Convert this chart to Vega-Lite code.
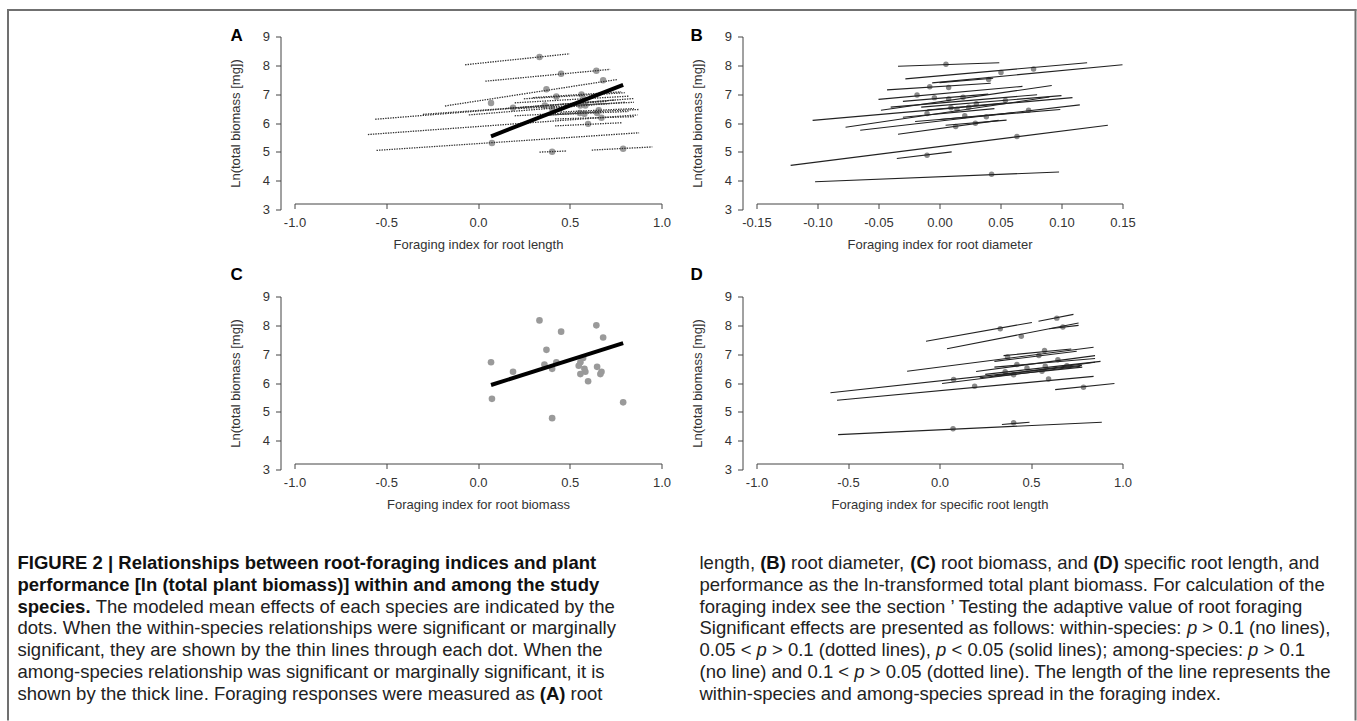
{
  "$schema": "https://vega.github.io/schema/vega-lite/v6.json",
  "background": "white",
  "padding": {"left": 6.5, "top": 8.5, "right": 1, "bottom": 0},
  "autosize": {"type": "pad"},
  "bounds": "flush",
  "columns": 2,
  "spacing": {"row": 87, "column": 95},
  "config": {
    "font": "Liberation Sans",
    "view": {"stroke": null},
    "text": {"fontSize": 18.5, "align": "left", "baseline": "alphabetic", "color": "#222"},
    "axis": {"grid": false, "domainColor": "#444", "tickColor": "#444", "tickSize": 5, "labelFontSize": 13, "labelColor": "#333", "titleFontSize": 13, "titleFontWeight": "normal", "titleColor": "#333", "labelFlush": false, "labelOverlap": false},
    "axisX": {"offset": -6, "labelPadding": 8, "titlePadding": 9},
    "axisY": {"offset": 14, "labelPadding": 6, "titlePadding": 20}
  },
  "concat": [
    {
      "width": 367, "height": 173,
      "layer": [
        {
          "data": {"values": [
            {"x": 0.335, "y": 8.29}, {"x": 0.453, "y": 7.71}, {"x": 0.645, "y": 7.81}, {"x": 0.373, "y": 7.17}, {"x": 0.682, "y": 7.48}, {"x": 0.071, "y": 6.69}, {"x": 0.191, "y": 6.53}, {"x": 0.427, "y": 6.92}, {"x": 0.364, "y": 6.61}, {"x": 0.404, "y": 6.50}, {"x": 0.564, "y": 6.99}, {"x": 0.576, "y": 6.83}, {"x": 0.558, "y": 6.61}, {"x": 0.585, "y": 6.61}, {"x": 0.555, "y": 6.35}, {"x": 0.580, "y": 6.32}, {"x": 0.658, "y": 6.44}, {"x": 0.649, "y": 6.35}, {"x": 0.673, "y": 6.18}, {"x": 0.600, "y": 5.97}, {"x": 0.076, "y": 5.31}, {"x": 0.404, "y": 5.00}, {"x": 0.791, "y": 5.11}
          ]},
          "mark": {"type": "circle", "size": 42, "color": "#9a9a9a", "opacity": 1},
          "encoding": {
            "x": {"field": "x", "type": "quantitative", "scale": {"domain": [-1, 1], "nice": false, "zero": false}, "axis": {"title": "Foraging index for root length", "values": [-1, -0.5, 0, 0.5, 1], "labelExpr": "datum.value < 0 ? '-' + format(-datum.value, '.1f') : format(datum.value, '.1f')"}},
            "y": {"field": "y", "type": "quantitative", "scale": {"domain": [3, 9], "nice": false, "zero": false}, "axis": {"title": "Ln(total biomass [mg])", "values": [3, 4, 5, 6, 7, 8, 9]}}
          }
        },
        {
          "data": {"values": [
            {"x": -0.07, "y": 8.02, "x2": 0.50, "y2": 8.40},
            {"x": 0.04, "y": 7.45, "x2": 0.72, "y2": 7.86},
            {"x": -0.18, "y": 6.59, "x2": 0.76, "y2": 7.51},
            {"x": -0.56, "y": 6.13, "x2": 0.85, "y2": 6.85},
            {"x": -0.60, "y": 5.60, "x2": 0.87, "y2": 6.28},
            {"x": -0.30, "y": 6.30, "x2": 0.70, "y2": 6.75},
            {"x": 0.25, "y": 6.84, "x2": 0.80, "y2": 7.05},
            {"x": 0.15, "y": 6.50, "x2": 0.75, "y2": 6.80},
            {"x": -0.05, "y": 6.28, "x2": 0.80, "y2": 6.72},
            {"x": 0.30, "y": 6.88, "x2": 0.78, "y2": 7.08},
            {"x": 0.20, "y": 6.70, "x2": 0.82, "y2": 6.93},
            {"x": 0.22, "y": 6.50, "x2": 0.85, "y2": 6.72},
            {"x": 0.20, "y": 6.25, "x2": 0.88, "y2": 6.47},
            {"x": 0.38, "y": 6.28, "x2": 0.82, "y2": 6.40},
            {"x": 0.45, "y": 6.38, "x2": 0.85, "y2": 6.50},
            {"x": 0.42, "y": 6.14, "x2": 0.85, "y2": 6.22},
            {"x": 0.42, "y": 5.90, "x2": 0.785, "y2": 6.01},
            {"x": -0.553, "y": 5.05, "x2": 0.878, "y2": 5.66},
            {"x": 0.335, "y": 4.99, "x2": 0.485, "y2": 5.03},
            {"x": 0.62, "y": 5.06, "x2": 0.95, "y2": 5.17}
          ]},
          "mark": {"type": "rule", "strokeDash": [1.4, 1.1], "strokeWidth": 1.3, "color": "#333"},
          "encoding": {
            "x": {"field": "x", "type": "quantitative", "scale": {"domain": [-1, 1], "nice": false, "zero": false}, "axis": {"title": "Foraging index for root length", "values": [-1, -0.5, 0, 0.5, 1], "labelExpr": "datum.value < 0 ? '-' + format(-datum.value, '.1f') : format(datum.value, '.1f')"}},
            "y": {"field": "y", "type": "quantitative", "scale": {"domain": [3, 9], "nice": false, "zero": false}, "axis": {"title": "Ln(total biomass [mg])", "values": [3, 4, 5, 6, 7, 8, 9]}},
            "x2": {"field": "x2"}, "y2": {"field": "y2"}
          }
        },
        {
          "data": {"values": [
            {"x": 0.47, "y": 6.60, "x2": 0.72, "y2": 6.68},
            {"x": 0.38, "y": 6.27, "x2": 0.66, "y2": 6.38}
          ]},
          "mark": {"type": "rule", "strokeWidth": 1, "color": "#444"},
          "encoding": {
            "x": {"field": "x", "type": "quantitative", "scale": {"domain": [-1, 1], "nice": false, "zero": false}, "axis": {"title": "Foraging index for root length", "values": [-1, -0.5, 0, 0.5, 1], "labelExpr": "datum.value < 0 ? '-' + format(-datum.value, '.1f') : format(datum.value, '.1f')"}},
            "y": {"field": "y", "type": "quantitative", "scale": {"domain": [3, 9], "nice": false, "zero": false}, "axis": {"title": "Ln(total biomass [mg])", "values": [3, 4, 5, 6, 7, 8, 9]}},
            "x2": {"field": "x2"}, "y2": {"field": "y2"}
          }
        },
        {
          "data": {"values": [{"x": 0.071, "y": 5.54, "x2": 0.791, "y2": 7.32}]},
          "mark": {"type": "rule", "strokeWidth": 4, "color": "black"},
          "encoding": {
            "x": {"field": "x", "type": "quantitative", "scale": {"domain": [-1, 1], "nice": false, "zero": false}, "axis": {"title": "Foraging index for root length", "values": [-1, -0.5, 0, 0.5, 1], "labelExpr": "datum.value < 0 ? '-' + format(-datum.value, '.1f') : format(datum.value, '.1f')"}},
            "y": {"field": "y", "type": "quantitative", "scale": {"domain": [3, 9], "nice": false, "zero": false}, "axis": {"title": "Ln(total biomass [mg])", "values": [3, 4, 5, 6, 7, 8, 9]}},
            "x2": {"field": "x2"}, "y2": {"field": "y2"}
          }
        },
        {
          "data": {"values": [{"label": "A"}]},
          "mark": {"type": "text", "fontSize": 17, "fontWeight": "bold", "color": "black"},
          "encoding": {
            "x": {"datum": -1.349, "type": "quantitative", "scale": {"domain": [-1, 1], "nice": false, "zero": false}, "axis": {"title": "Foraging index for root length", "values": [-1, -0.5, 0, 0.5, 1], "labelExpr": "datum.value < 0 ? '-' + format(-datum.value, '.1f') : format(datum.value, '.1f')"}},
            "y": {"datum": 8.83, "type": "quantitative", "scale": {"domain": [3, 9], "nice": false, "zero": false}, "axis": {"title": "Ln(total biomass [mg])", "values": [3, 4, 5, 6, 7, 8, 9]}},
            "text": {"field": "label"}
          }
        }
      ]
    },
    {
      "width": 366, "height": 173,
      "layer": [
        {
          "data": {"values": [
            {"x": 0.0053, "y": 8.04}, {"x": 0.0504, "y": 7.75}, {"x": 0.0771, "y": 7.87}, {"x": 0.0403, "y": 7.51}, {"x": -0.008, "y": 7.26}, {"x": 0.0075, "y": 7.23}, {"x": -0.0184, "y": 6.97}, {"x": -0.0042, "y": 6.88}, {"x": 0.0075, "y": 6.83}, {"x": 0.0193, "y": 6.89}, {"x": 0.0302, "y": 6.67}, {"x": 0.054, "y": 6.78}, {"x": 0.0094, "y": 6.53}, {"x": 0.0143, "y": 6.48}, {"x": 0.0239, "y": 6.55}, {"x": -0.0102, "y": 6.33}, {"x": 0.0207, "y": 6.25}, {"x": 0.0384, "y": 6.22}, {"x": 0.073, "y": 6.44}, {"x": 0.0133, "y": 5.88}, {"x": 0.0294, "y": 5.99}, {"x": 0.0635, "y": 5.53}, {"x": -0.0102, "y": 4.88}, {"x": 0.0427, "y": 4.22}
          ]},
          "mark": {"type": "circle", "size": 30, "color": "#8a8a8a", "opacity": 1},
          "encoding": {
            "x": {"field": "x", "type": "quantitative", "scale": {"domain": [-0.15, 0.15], "nice": false, "zero": false}, "axis": {"title": "Foraging index for root diameter", "values": [-0.15, -0.1, -0.05, 0, 0.05, 0.1, 0.15], "labelExpr": "datum.value < -0.0001 ? '-' + format(-datum.value, '.2f') : format(abs(datum.value), '.2f')"}},
            "y": {"field": "y", "type": "quantitative", "scale": {"domain": [3, 9], "nice": false, "zero": false}, "axis": {"title": "Ln(total biomass [mg])", "values": [3, 4, 5, 6, 7, 8, 9]}}
          }
        },
        {
          "data": {"values": [
            {"x": -0.034, "y": 7.97, "x2": 0.049, "y2": 8.09},
            {"x": -0.028, "y": 7.53, "x2": 0.121, "y2": 8.09},
            {"x": -0.006, "y": 7.39, "x2": 0.150, "y2": 8.02},
            {"x": 0.000, "y": 7.40, "x2": 0.044, "y2": 7.55},
            {"x": -0.043, "y": 7.15, "x2": 0.042, "y2": 7.38},
            {"x": -0.050, "y": 6.82, "x2": 0.068, "y2": 7.27},
            {"x": -0.048, "y": 6.44, "x2": 0.092, "y2": 7.30},
            {"x": -0.104, "y": 6.09, "x2": 0.109, "y2": 6.88},
            {"x": -0.077, "y": 5.85, "x2": 0.090, "y2": 6.90},
            {"x": -0.065, "y": 5.75, "x2": 0.115, "y2": 6.63},
            {"x": -0.034, "y": 5.61, "x2": 0.0485, "y2": 6.09},
            {"x": -0.122, "y": 4.53, "x2": 0.138, "y2": 5.92},
            {"x": -0.035, "y": 4.77, "x2": 0.010, "y2": 5.00},
            {"x": -0.102, "y": 3.96, "x2": 0.098, "y2": 4.30},
            {"x": -0.040, "y": 6.55, "x2": 0.080, "y2": 6.98},
            {"x": -0.020, "y": 6.05, "x2": 0.099, "y2": 6.47},
            {"x": -0.030, "y": 6.20, "x2": 0.045, "y2": 6.50},
            {"x": -0.015, "y": 6.55, "x2": 0.100, "y2": 6.95},
            {"x": 0.000, "y": 6.12, "x2": 0.060, "y2": 6.35},
            {"x": -0.030, "y": 6.75, "x2": 0.040, "y2": 7.00},
            {"x": -0.010, "y": 6.45, "x2": 0.055, "y2": 6.70},
            {"x": 0.005, "y": 5.92, "x2": 0.055, "y2": 6.10}
          ]},
          "mark": {"type": "rule", "strokeWidth": 1.1, "color": "#222"},
          "encoding": {
            "x": {"field": "x", "type": "quantitative", "scale": {"domain": [-0.15, 0.15], "nice": false, "zero": false}, "axis": {"title": "Foraging index for root diameter", "values": [-0.15, -0.1, -0.05, 0, 0.05, 0.1, 0.15], "labelExpr": "datum.value < -0.0001 ? '-' + format(-datum.value, '.2f') : format(abs(datum.value), '.2f')"}},
            "y": {"field": "y", "type": "quantitative", "scale": {"domain": [3, 9], "nice": false, "zero": false}, "axis": {"title": "Ln(total biomass [mg])", "values": [3, 4, 5, 6, 7, 8, 9]}},
            "x2": {"field": "x2"}, "y2": {"field": "y2"}
          }
        },
        {
          "data": {"values": [{"label": "B"}]},
          "mark": {"type": "text", "fontSize": 17, "fontWeight": "bold", "color": "black"},
          "encoding": {
            "x": {"datum": -0.204, "type": "quantitative", "scale": {"domain": [-0.15, 0.15], "nice": false, "zero": false}, "axis": {"title": "Foraging index for root diameter", "values": [-0.15, -0.1, -0.05, 0, 0.05, 0.1, 0.15], "labelExpr": "datum.value < -0.0001 ? '-' + format(-datum.value, '.2f') : format(abs(datum.value), '.2f')"}},
            "y": {"datum": 8.83, "type": "quantitative", "scale": {"domain": [3, 9], "nice": false, "zero": false}, "axis": {"title": "Ln(total biomass [mg])", "values": [3, 4, 5, 6, 7, 8, 9]}},
            "text": {"field": "label"}
          }
        }
      ]
    },
    {
      "width": 367, "height": 173,
      "layer": [
        {
          "data": {"values": [
            {"x": 0.071, "y": 6.72}, {"x": 0.076, "y": 5.45}, {"x": 0.191, "y": 6.39}, {"x": 0.335, "y": 8.17}, {"x": 0.373, "y": 7.15}, {"x": 0.362, "y": 6.64}, {"x": 0.404, "y": 6.49}, {"x": 0.427, "y": 6.72}, {"x": 0.404, "y": 4.78}, {"x": 0.453, "y": 7.78}, {"x": 0.558, "y": 6.72}, {"x": 0.549, "y": 6.60}, {"x": 0.573, "y": 6.87}, {"x": 0.580, "y": 6.49}, {"x": 0.585, "y": 6.39}, {"x": 0.558, "y": 6.31}, {"x": 0.600, "y": 6.06}, {"x": 0.645, "y": 8.00}, {"x": 0.649, "y": 6.56}, {"x": 0.682, "y": 7.58}, {"x": 0.667, "y": 6.31}, {"x": 0.673, "y": 6.39}, {"x": 0.791, "y": 5.33}
          ]},
          "mark": {"type": "circle", "size": 44, "color": "#9a9a9a", "opacity": 1},
          "encoding": {
            "x": {"field": "x", "type": "quantitative", "scale": {"domain": [-1, 1], "nice": false, "zero": false}, "axis": {"title": "Foraging index for root biomass", "values": [-1, -0.5, 0, 0.5, 1], "labelExpr": "datum.value < 0 ? '-' + format(-datum.value, '.1f') : format(datum.value, '.1f')"}},
            "y": {"field": "y", "type": "quantitative", "scale": {"domain": [3, 9], "nice": false, "zero": false}, "axis": {"title": "Ln(total biomass [mg])", "values": [3, 4, 5, 6, 7, 8, 9]}}
          }
        },
        {
          "data": {"values": [{"x": 0.071, "y": 5.93, "x2": 0.791, "y2": 7.38}]},
          "mark": {"type": "rule", "strokeWidth": 4, "color": "black"},
          "encoding": {
            "x": {"field": "x", "type": "quantitative", "scale": {"domain": [-1, 1], "nice": false, "zero": false}, "axis": {"title": "Foraging index for root biomass", "values": [-1, -0.5, 0, 0.5, 1], "labelExpr": "datum.value < 0 ? '-' + format(-datum.value, '.1f') : format(datum.value, '.1f')"}},
            "y": {"field": "y", "type": "quantitative", "scale": {"domain": [3, 9], "nice": false, "zero": false}, "axis": {"title": "Ln(total biomass [mg])", "values": [3, 4, 5, 6, 7, 8, 9]}},
            "x2": {"field": "x2"}, "y2": {"field": "y2"}
          }
        },
        {
          "data": {"values": [{"label": "C"}]},
          "mark": {"type": "text", "fontSize": 17, "fontWeight": "bold", "color": "black"},
          "encoding": {
            "x": {"datum": -1.349, "type": "quantitative", "scale": {"domain": [-1, 1], "nice": false, "zero": false}, "axis": {"title": "Foraging index for root biomass", "values": [-1, -0.5, 0, 0.5, 1], "labelExpr": "datum.value < 0 ? '-' + format(-datum.value, '.1f') : format(datum.value, '.1f')"}},
            "y": {"datum": 9.555, "type": "quantitative", "scale": {"domain": [3, 9], "nice": false, "zero": false}, "axis": {"title": "Ln(total biomass [mg])", "values": [3, 4, 5, 6, 7, 8, 9]}},
            "text": {"field": "label"}
          }
        }
      ]
    },
    {
      "width": 366, "height": 173,
      "layer": [
        {
          "data": {"values": [
            {"x": 0.641, "y": 8.25}, {"x": 0.332, "y": 7.88}, {"x": 0.447, "y": 7.62}, {"x": 0.674, "y": 7.94}, {"x": 0.372, "y": 6.90}, {"x": 0.574, "y": 7.13}, {"x": 0.543, "y": 6.95}, {"x": 0.647, "y": 6.81}, {"x": 0.423, "y": 6.64}, {"x": 0.578, "y": 6.58}, {"x": 0.478, "y": 6.52}, {"x": 0.359, "y": 6.39}, {"x": 0.405, "y": 6.29}, {"x": 0.560, "y": 6.41}, {"x": 0.696, "y": 6.60}, {"x": 0.077, "y": 6.12}, {"x": 0.192, "y": 5.89}, {"x": 0.596, "y": 6.14}, {"x": 0.787, "y": 5.85}, {"x": 0.074, "y": 4.41}, {"x": 0.405, "y": 4.62}
          ]},
          "mark": {"type": "circle", "size": 30, "color": "#8a8a8a", "opacity": 1},
          "encoding": {
            "x": {"field": "x", "type": "quantitative", "scale": {"domain": [-1, 1], "nice": false, "zero": false}, "axis": {"title": "Foraging index for specific root length", "values": [-1, -0.5, 0, 0.5, 1], "labelExpr": "datum.value < 0 ? '-' + format(-datum.value, '.1f') : format(datum.value, '.1f')"}},
            "y": {"field": "y", "type": "quantitative", "scale": {"domain": [3, 9], "nice": false, "zero": false}, "axis": {"title": "Ln(total biomass [mg])", "values": [3, 4, 5, 6, 7, 8, 9]}}
          }
        },
        {
          "data": {"values": [
            {"x": 0.541, "y": 8.14, "x2": 0.732, "y2": 8.38},
            {"x": -0.074, "y": 7.45, "x2": 0.505, "y2": 8.10},
            {"x": 0.041, "y": 7.19, "x2": 0.760, "y2": 8.08},
            {"x": 0.60, "y": 7.88, "x2": 0.76, "y2": 8.00},
            {"x": -0.177, "y": 6.41, "x2": 0.842, "y2": 7.24},
            {"x": 0.30, "y": 6.75, "x2": 0.75, "y2": 7.10},
            {"x": 0.35, "y": 6.95, "x2": 0.72, "y2": 7.18},
            {"x": 0.20, "y": 6.40, "x2": 0.85, "y2": 6.95},
            {"x": 0.25, "y": 6.30, "x2": 0.88, "y2": 6.75},
            {"x": 0.30, "y": 6.25, "x2": 0.85, "y2": 6.72},
            {"x": 0.22, "y": 6.18, "x2": 0.78, "y2": 6.55},
            {"x": -0.596, "y": 5.66, "x2": 0.778, "y2": 6.61},
            {"x": -0.56, "y": 5.40, "x2": 0.842, "y2": 6.23},
            {"x": 0.632, "y": 5.77, "x2": 0.956, "y2": 5.98},
            {"x": -0.554, "y": 4.21, "x2": 0.887, "y2": 4.64},
            {"x": 0.341, "y": 4.56, "x2": 0.492, "y2": 4.64},
            {"x": 0.014, "y": 5.98, "x2": 0.769, "y2": 6.58},
            {"x": 0.30, "y": 6.55, "x2": 0.85, "y2": 6.85}
          ]},
          "mark": {"type": "rule", "strokeWidth": 1.1, "color": "#222"},
          "encoding": {
            "x": {"field": "x", "type": "quantitative", "scale": {"domain": [-1, 1], "nice": false, "zero": false}, "axis": {"title": "Foraging index for specific root length", "values": [-1, -0.5, 0, 0.5, 1], "labelExpr": "datum.value < 0 ? '-' + format(-datum.value, '.1f') : format(datum.value, '.1f')"}},
            "y": {"field": "y", "type": "quantitative", "scale": {"domain": [3, 9], "nice": false, "zero": false}, "axis": {"title": "Ln(total biomass [mg])", "values": [3, 4, 5, 6, 7, 8, 9]}},
            "x2": {"field": "x2"}, "y2": {"field": "y2"}
          }
        },
        {
          "data": {"values": [{"label": "D"}]},
          "mark": {"type": "text", "fontSize": 17, "fontWeight": "bold", "color": "black"},
          "encoding": {
            "x": {"datum": -1.361, "type": "quantitative", "scale": {"domain": [-1, 1], "nice": false, "zero": false}, "axis": {"title": "Foraging index for specific root length", "values": [-1, -0.5, 0, 0.5, 1], "labelExpr": "datum.value < 0 ? '-' + format(-datum.value, '.1f') : format(datum.value, '.1f')"}},
            "y": {"datum": 9.555, "type": "quantitative", "scale": {"domain": [3, 9], "nice": false, "zero": false}, "axis": {"title": "Ln(total biomass [mg])", "values": [3, 4, 5, 6, 7, 8, 9]}},
            "text": {"field": "label"}
          }
        }
      ]
    },
    {
      "width": 367, "height": 150,
      "layer": [
        {"data": {"values": [{}]}, "mark": {"type": "rule", "color": "#707070", "strokeWidth": 2, "strokeCap": "square"},
         "encoding": {"x": {"datum": 7.5, "type": "quantitative", "scale": {"domain": [0, 1357], "range": [-294, 1063], "nice": false, "zero": false}, "axis": null}, "y": {"datum": 9.5, "type": "quantitative", "scale": {"domain": [0, 721], "range": [-556, 165], "nice": false, "zero": false}, "axis": null}, "y2": {"datum": 719}}},
        {"data": {"values": [{}]}, "mark": {"type": "rule", "color": "#707070", "strokeWidth": 2, "strokeCap": "square"},
         "encoding": {"x": {"datum": 7.5, "type": "quantitative"}, "x2": {"datum": 1355}, "y": {"datum": 9.5, "type": "quantitative"}}},
        {"data": {"values": [{}]}, "mark": {"type": "rule", "color": "#707070", "strokeWidth": 2, "strokeCap": "square"},
         "encoding": {"x": {"datum": 1355, "type": "quantitative"}, "y": {"datum": 9.5, "type": "quantitative"}, "y2": {"datum": 719}}},
        {"data": {"values": [{"t": "FIGURE 2 | Relationships between root-foraging indices and plant"}]}, "mark": {"type": "text", "fontWeight": "bold", "color": "#111"},
         "encoding": {"x": {"datum": 17, "type": "quantitative"}, "y": {"datum": 568.5, "type": "quantitative"}, "text": {"field": "t"}}},
        {"data": {"values": [{"t": "performance [ln (total plant biomass)] within and among the study"}]}, "mark": {"type": "text", "fontWeight": "bold", "color": "#111"},
         "encoding": {"x": {"datum": 17, "type": "quantitative"}, "y": {"datum": 590.3, "type": "quantitative"}, "text": {"field": "t"}}},
        {"data": {"values": [{"t": "species."}]}, "mark": {"type": "text", "fontWeight": "bold", "color": "#111"},
         "encoding": {"x": {"datum": 17, "type": "quantitative"}, "y": {"datum": 612.1, "type": "quantitative"}, "text": {"field": "t"}}},
        {"data": {"values": [{"t": "The modeled mean effects of each species are indicated by the"}]}, "mark": {"type": "text"},
         "encoding": {"x": {"datum": 95.2, "type": "quantitative"}, "y": {"datum": 612.1, "type": "quantitative"}, "text": {"field": "t"}}},
        {"data": {"values": [{"t": "dots. When the within-species relationships were significant or marginally"}]}, "mark": {"type": "text"},
         "encoding": {"x": {"datum": 17, "type": "quantitative"}, "y": {"datum": 633.9, "type": "quantitative"}, "text": {"field": "t"}}},
        {"data": {"values": [{"t": "significant, they are shown by the thin lines through each dot. When the"}]}, "mark": {"type": "text"},
         "encoding": {"x": {"datum": 17, "type": "quantitative"}, "y": {"datum": 655.7, "type": "quantitative"}, "text": {"field": "t"}}},
        {"data": {"values": [{"t": "among-species relationship was significant or marginally significant, it is"}]}, "mark": {"type": "text"},
         "encoding": {"x": {"datum": 17, "type": "quantitative"}, "y": {"datum": 677.5, "type": "quantitative"}, "text": {"field": "t"}}},
        {"data": {"values": [{"t": "shown by the thick line. Foraging responses were measured as"}]}, "mark": {"type": "text"},
         "encoding": {"x": {"datum": 17, "type": "quantitative"}, "y": {"datum": 699.3, "type": "quantitative"}, "text": {"field": "t"}}},
        {"data": {"values": [{"t": "(A)"}]}, "mark": {"type": "text", "fontWeight": "bold", "color": "#111"},
         "encoding": {"x": {"datum": 539.3, "type": "quantitative"}, "y": {"datum": 699.3, "type": "quantitative"}, "text": {"field": "t"}}},
        {"data": {"values": [{"t": "root"}]}, "mark": {"type": "text"},
         "encoding": {"x": {"datum": 570.1, "type": "quantitative"}, "y": {"datum": 699.3, "type": "quantitative"}, "text": {"field": "t"}}},
        {"data": {"values": [{"t": "length,"}]}, "mark": {"type": "text"},
         "encoding": {"x": {"datum": 699, "type": "quantitative"}, "y": {"datum": 568.5, "type": "quantitative"}, "text": {"field": "t"}}},
        {"data": {"values": [{"t": "(B)"}]}, "mark": {"type": "text", "fontWeight": "bold", "color": "#111"},
         "encoding": {"x": {"datum": 759.7, "type": "quantitative"}, "y": {"datum": 568.5, "type": "quantitative"}, "text": {"field": "t"}}},
        {"data": {"values": [{"t": "root diameter,"}]}, "mark": {"type": "text"},
         "encoding": {"x": {"datum": 790.5, "type": "quantitative"}, "y": {"datum": 568.5, "type": "quantitative"}, "text": {"field": "t"}}},
        {"data": {"values": [{"t": "(C)"}]}, "mark": {"type": "text", "fontWeight": "bold", "color": "#111"},
         "encoding": {"x": {"datum": 909.8, "type": "quantitative"}, "y": {"datum": 568.5, "type": "quantitative"}, "text": {"field": "t"}}},
        {"data": {"values": [{"t": "root biomass, and"}]}, "mark": {"type": "text"},
         "encoding": {"x": {"datum": 940.6, "type": "quantitative"}, "y": {"datum": 568.5, "type": "quantitative"}, "text": {"field": "t"}}},
        {"data": {"values": [{"t": "(D)"}]}, "mark": {"type": "text", "fontWeight": "bold", "color": "#111"},
         "encoding": {"x": {"datum": 1092.7, "type": "quantitative"}, "y": {"datum": 568.5, "type": "quantitative"}, "text": {"field": "t"}}},
        {"data": {"values": [{"t": "specific root length, and"}]}, "mark": {"type": "text"},
         "encoding": {"x": {"datum": 1123.5, "type": "quantitative"}, "y": {"datum": 568.5, "type": "quantitative"}, "text": {"field": "t"}}},
        {"data": {"values": [{"t": "performance as the ln-transformed total plant biomass. For calculation of the"}]}, "mark": {"type": "text"},
         "encoding": {"x": {"datum": 699, "type": "quantitative"}, "y": {"datum": 590.3, "type": "quantitative"}, "text": {"field": "t"}}},
        {"data": {"values": [{"t": "foraging index see the section ’ Testing the adaptive value of root foraging"}]}, "mark": {"type": "text"},
         "encoding": {"x": {"datum": 699, "type": "quantitative"}, "y": {"datum": 612.1, "type": "quantitative"}, "text": {"field": "t"}}},
        {"data": {"values": [{"t": "Significant effects are presented as follows: within-species:"}]}, "mark": {"type": "text"},
         "encoding": {"x": {"datum": 699, "type": "quantitative"}, "y": {"datum": 633.9, "type": "quantitative"}, "text": {"field": "t"}}},
        {"data": {"values": [{"t": "p"}]}, "mark": {"type": "text", "fontStyle": "italic"},
         "encoding": {"x": {"datum": 1186.4, "type": "quantitative"}, "y": {"datum": 633.9, "type": "quantitative"}, "text": {"field": "t"}}},
        {"data": {"values": [{"t": "> 0.1 (no lines),"}]}, "mark": {"type": "text"},
         "encoding": {"x": {"datum": 1201.8, "type": "quantitative"}, "y": {"datum": 633.9, "type": "quantitative"}, "text": {"field": "t"}}},
        {"data": {"values": [{"t": "0.05 <"}]}, "mark": {"type": "text"},
         "encoding": {"x": {"datum": 699, "type": "quantitative"}, "y": {"datum": 655.7, "type": "quantitative"}, "text": {"field": "t"}}},
        {"data": {"values": [{"t": "p"}]}, "mark": {"type": "text", "fontStyle": "italic"},
         "encoding": {"x": {"datum": 756.1, "type": "quantitative"}, "y": {"datum": 655.7, "type": "quantitative"}, "text": {"field": "t"}}},
        {"data": {"values": [{"t": "> 0.1 (dotted lines),"}]}, "mark": {"type": "text"},
         "encoding": {"x": {"datum": 771.5, "type": "quantitative"}, "y": {"datum": 655.7, "type": "quantitative"}, "text": {"field": "t"}}},
        {"data": {"values": [{"t": "p"}]}, "mark": {"type": "text", "fontStyle": "italic"},
         "encoding": {"x": {"datum": 935.5, "type": "quantitative"}, "y": {"datum": 655.7, "type": "quantitative"}, "text": {"field": "t"}}},
        {"data": {"values": [{"t": "< 0.05 (solid lines); among-species:"}]}, "mark": {"type": "text"},
         "encoding": {"x": {"datum": 951, "type": "quantitative"}, "y": {"datum": 655.7, "type": "quantitative"}, "text": {"field": "t"}}},
        {"data": {"values": [{"t": "p"}]}, "mark": {"type": "text", "fontStyle": "italic"},
         "encoding": {"x": {"datum": 1247.6, "type": "quantitative"}, "y": {"datum": 655.7, "type": "quantitative"}, "text": {"field": "t"}}},
        {"data": {"values": [{"t": "> 0.1"}]}, "mark": {"type": "text"},
         "encoding": {"x": {"datum": 1263, "type": "quantitative"}, "y": {"datum": 655.7, "type": "quantitative"}, "text": {"field": "t"}}},
        {"data": {"values": [{"t": "(no line) and 0.1 <"}]}, "mark": {"type": "text"},
         "encoding": {"x": {"datum": 699, "type": "quantitative"}, "y": {"datum": 677.5, "type": "quantitative"}, "text": {"field": "t"}}},
        {"data": {"values": [{"t": "p"}]}, "mark": {"type": "text", "fontStyle": "italic"},
         "encoding": {"x": {"datum": 853.8, "type": "quantitative"}, "y": {"datum": 677.5, "type": "quantitative"}, "text": {"field": "t"}}},
        {"data": {"values": [{"t": "> 0.05 (dotted line). The length of the line represents the"}]}, "mark": {"type": "text"},
         "encoding": {"x": {"datum": 869.2, "type": "quantitative"}, "y": {"datum": 677.5, "type": "quantitative"}, "text": {"field": "t"}}},
        {"data": {"values": [{"t": "within-species and among-species spread in the foraging index."}]}, "mark": {"type": "text"},
         "encoding": {"x": {"datum": 699, "type": "quantitative"}, "y": {"datum": 699.3, "type": "quantitative"}, "text": {"field": "t"}}}
      ]
    }
  ]
}
